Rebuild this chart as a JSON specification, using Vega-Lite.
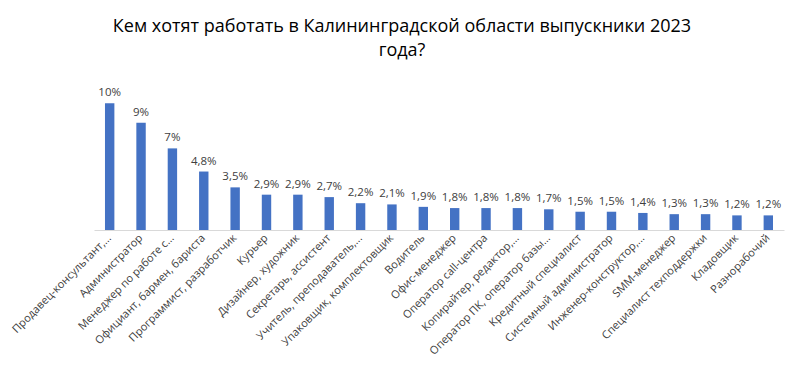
{
  "$schema": "https://vega.github.io/schema/vega-lite/v6.json",
  "autosize": {"type": "none"},
  "padding": {"left": 94, "top": 96, "right": 20, "bottom": 154},
  "width": 690,
  "height": 134,
  "background": "white",
  "title": {
    "text": ["Кем хотят работать в Калининградской области выпускники 2023", "года?"],
    "fontSize": 18,
    "font": "Open Sans",
    "fontWeight": "normal",
    "color": "#000000",
    "lineHeight": 24,
    "anchor": "middle",
    "dx": -37,
    "offset": 27
  },
  "data": {
    "values": [
      {"job": "Продавец-консультант,...", "value": 10.4, "label": "10%"},
      {"job": "Администратор", "value": 8.8, "label": "9%"},
      {"job": "Менеджер по работе с...", "value": 6.7, "label": "7%"},
      {"job": "Официант, бармен, бариста", "value": 4.8, "label": "4,8%"},
      {"job": "Программист, разработчик", "value": 3.5, "label": "3,5%"},
      {"job": "Курьер", "value": 2.9, "label": "2,9%"},
      {"job": "Дизайнер, художник", "value": 2.9, "label": "2,9%"},
      {"job": "Секретарь, ассистент", "value": 2.7, "label": "2,7%"},
      {"job": "Учитель, преподаватель,...", "value": 2.2, "label": "2,2%"},
      {"job": "Упаковщик, комплектовщик", "value": 2.1, "label": "2,1%"},
      {"job": "Водитель", "value": 1.9, "label": "1,9%"},
      {"job": "Офис-менеджер", "value": 1.8, "label": "1,8%"},
      {"job": "Оператор call-центра", "value": 1.8, "label": "1,8%"},
      {"job": "Копирайтер, редактор,...", "value": 1.8, "label": "1,8%"},
      {"job": "Оператор ПК, оператор базы...", "value": 1.7, "label": "1,7%"},
      {"job": "Кредитный специалист", "value": 1.5, "label": "1,5%"},
      {"job": "Системный администратор", "value": 1.5, "label": "1,5%"},
      {"job": "Инженер-конструктор,...", "value": 1.4, "label": "1,4%"},
      {"job": "SMM-менеджер", "value": 1.3, "label": "1,3%"},
      {"job": "Специалист техподдержки", "value": 1.3, "label": "1,3%"},
      {"job": "Кладовщик", "value": 1.2, "label": "1,2%"},
      {"job": "Разнорабочий", "value": 1.2, "label": "1,2%"}
    ]
  },
  "encoding": {
    "x": {
      "field": "job",
      "type": "nominal",
      "sort": null,
      "scale": {"paddingInner": 0.7, "paddingOuter": 0.35},
      "axis": {
        "title": null,
        "labelAngle": -45,
        "labelAlign": "right",
        "labelBaseline": "middle",
        "labelFont": "Open Sans",
        "labelFontSize": 11,
        "labelColor": "#404040",
        "labelPadding": 6,
        "labelLimit": 200,
        "ticks": false,
        "domainColor": "#d9d9d9",
        "domainWidth": 1
      }
    },
    "y": {
      "field": "value",
      "type": "quantitative",
      "scale": {"domain": [0, 11]},
      "axis": null
    }
  },
  "layer": [
    {"mark": {"type": "bar", "color": "#4472C4"}},
    {
      "mark": {"type": "text", "dy": -10, "font": "Open Sans", "fontSize": 11.5, "color": "#404040"},
      "encoding": {"text": {"field": "label"}}
    }
  ],
  "config": {"view": {"stroke": null}}
}
